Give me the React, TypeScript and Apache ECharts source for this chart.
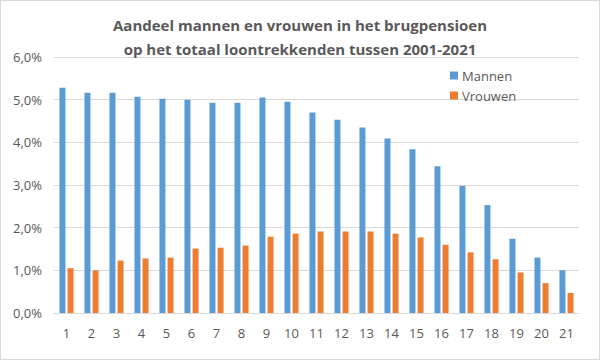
import React, { useEffect, useRef } from "react";
import * as echarts from "echarts";

const categories = ["1","2","3","4","5","6","7","8","9","10","11","12","13","14","15","16","17","18","19","20","21"];
const mannen = [5.28,5.16,5.16,5.07,5.02,5.0,4.93,4.93,5.05,4.95,4.70,4.53,4.35,4.09,3.84,3.44,2.98,2.53,1.74,1.30,1.0];
const vrouwen = [1.05,1.0,1.23,1.28,1.30,1.51,1.53,1.58,1.79,1.86,1.91,1.91,1.91,1.86,1.77,1.60,1.42,1.26,0.95,0.70,0.47];
const titleLines = ["Aandeel mannen en vrouwen in het brugpensioen", "op het totaal loontrekkenden tussen 2001-2021"];

export default function App() {
  const ref = useRef<HTMLDivElement>(null);
  useEffect(() => {
    const chart = echarts.init(ref.current!, null, { renderer: "svg" });
    const font = "'Open Sans', 'Noto Sans', sans-serif";
    chart.setOption({
      animation: false,
      backgroundColor: "#fff",
      title: {
        text: titleLines.join("\n"),
        left: "center",
        top: 7,
        textStyle: { fontFamily: font, fontSize: 15, fontWeight: "bold", color: "#595959", lineHeight: 24 },
      },
      legend: {
        orient: "vertical",
        left: 444,
        top: 63,
        itemWidth: 8,
        itemHeight: 8,
        itemGap: 7,
        icon: "rect",
        textStyle: { fontFamily: font, fontSize: 13, color: "#595959", padding: [0, 0, 0, -1] },
        data: ["Mannen", "Vrouwen"],
      },
      grid: { left: 53, right: 20, top: 56, bottom: 46, containLabel: false },
      xAxis: {
        type: "category",
        data: categories,
        axisLine: { lineStyle: { color: "#d9d9d9" } },
        axisTick: { show: false },
        axisLabel: { fontFamily: font, fontSize: 13, color: "#595959", margin: 13 },
      },
      yAxis: {
        type: "value",
        min: 0,
        max: 6,
        interval: 1,
        axisLine: { show: false },
        axisTick: { show: false },
        splitLine: { lineStyle: { color: "#d9d9d9" } },
        axisLabel: {
          fontFamily: font,
          fontSize: 13,
          color: "#595959",
          margin: 12,
          formatter: (v: number) => v.toFixed(1).replace(".", ",") + "%",
        },
      },
      series: [
        { name: "Mannen", type: "bar", data: mannen, barWidth: 6, barGap: "35%", itemStyle: { color: "#5b9bd5" } },
        { name: "Vrouwen", type: "bar", data: vrouwen, barWidth: 6, itemStyle: { color: "#ed7d31" } },
      ],
    });
    return () => chart.dispose();
  }, []);
  return (
    <div
      ref={ref}
      style={{ width: 600, height: 360, position: "absolute", left: 0, top: 0, boxSizing: "border-box", border: "1px solid #d9d9d9" }}
    />
  );
}
